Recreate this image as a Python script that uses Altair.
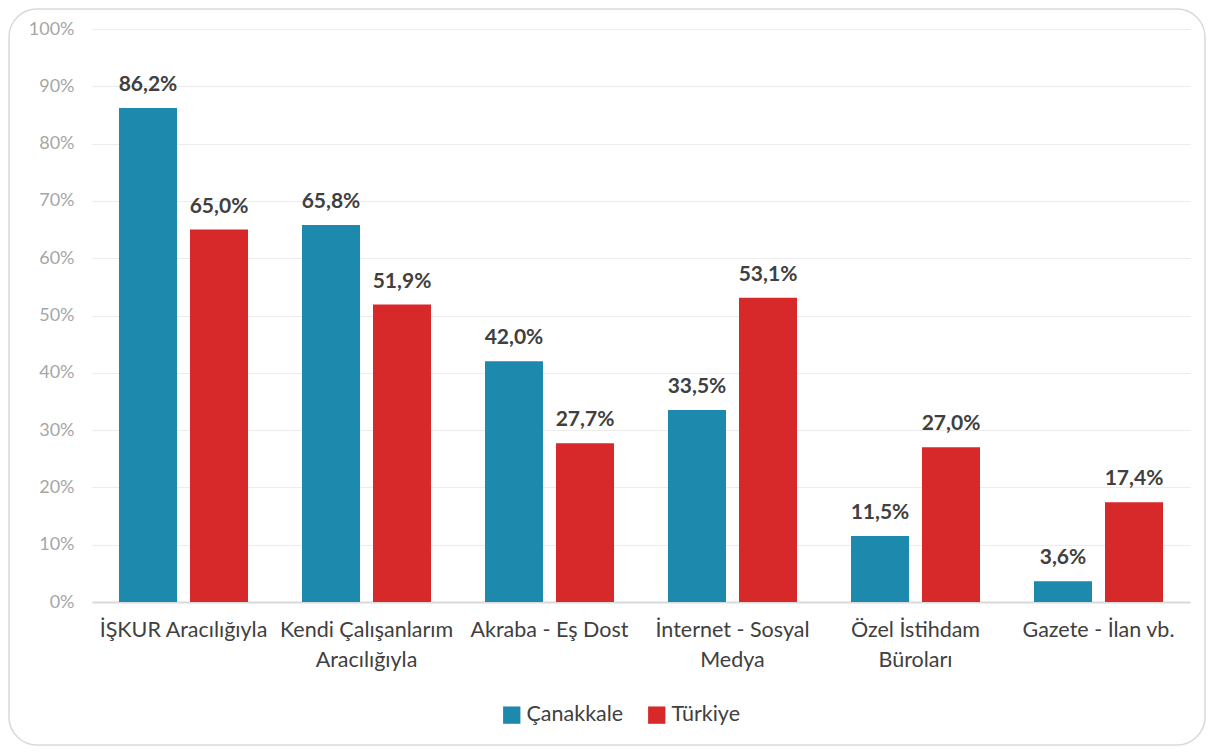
import altair as alt
import pandas as pd

categories = ["İŞKUR Aracılığıyla", "Kendi Çalışanlarım\nAracılığıyla", "Akraba - Eş Dost",
              "İnternet - Sosyal\nMedya", "Özel İstihdam\nBüroları", "Gazete - İlan vb."]
series = ["Çanakkale", "Türkiye"]
canakkale = [86.2, 65.8, 42.0, 33.5, 11.5, 3.6]
turkiye = [65.0, 51.9, 27.7, 53.1, 27.0, 17.4]
colors = ["#1C89AD", "#D7282A"]

rows = []
for i, c in enumerate(categories):
    for s, vals in zip(series, [canakkale, turkiye]):
        v = vals[i]
        rows.append({"cat": c, "series": s, "value": v / 100.0,
                     "label": f"{v:.1f}%".replace(".", ",")})
df = pd.DataFrame(rows)

FONT = "Lato"
W, H = 1098, 573

x = alt.X("cat:N", sort=categories, title=None,
          scale=alt.Scale(paddingInner=0, paddingOuter=0),
          axis=alt.Axis(labelExpr="split(datum.value, '\\n')", labelAngle=0,
                        labelFont=FONT, labelFontSize=21.5, labelColor="#404040",
                        labelPadding=17, labelLineHeight=30, ticks=False,
                        domainColor="#d9d9d9", domainWidth=2))
xo = alt.XOffset("series:N", sort=series,
                 scale=alt.Scale(paddingInner=0.183, paddingOuter=0.38))
y = alt.Y("value:Q", title=None,
          scale=alt.Scale(domain=[0, 1]),
          axis=alt.Axis(format=".0%", values=[i / 10 for i in range(11)],
                        labelFont=FONT, labelFontSize=18, labelColor="#a6a6a6",
                        labelPadding=18, ticks=False, domain=False,
                        gridColor="#ececec", gridWidth=1.2))
color = alt.Color("series:N", sort=series,
                  scale=alt.Scale(domain=series, range=colors),
                  legend=alt.Legend(title=None, orient="none", direction="horizontal",
                                    legendX=409, legendY=675,
                                    symbolType="square", symbolSize=300,
                                    symbolStrokeWidth=0, symbolOpacity=1,
                                    labelFont=FONT, labelFontSize=21.5,
                                    labelColor="#404040", labelOffset=4,
                                    columnPadding=22))

frame = alt.Chart(pd.DataFrame({"a": [0]})).mark_rect(
    fill=None, stroke="#d9d9d9", strokeWidth=1.5, cornerRadius=28, clip=False
).encode(x=alt.value(-83), x2=alt.value(1113), y=alt.value(-20), y2=alt.value(716))

bars = alt.Chart(df).mark_bar().encode(x=x, xOffset=xo, y=y, color=color)
labels = alt.Chart(df).mark_text(
    baseline="bottom", dy=-13, font=FONT, fontSize=21, fontWeight="bold", color="#404040"
).encode(x=x, xOffset=xo, y=y, text="label:N")

chart = alt.layer(frame, bars, labels).properties(
    width=W, height=H,
    autosize=alt.AutoSizeParams(type="none"),
    padding={"left": 84, "top": 21, "right": 17, "bottom": 144},
    background="white",
).configure_view(stroke=None)

chart.save("out.html", embed_options={"renderer": "svg", "actions": False})
